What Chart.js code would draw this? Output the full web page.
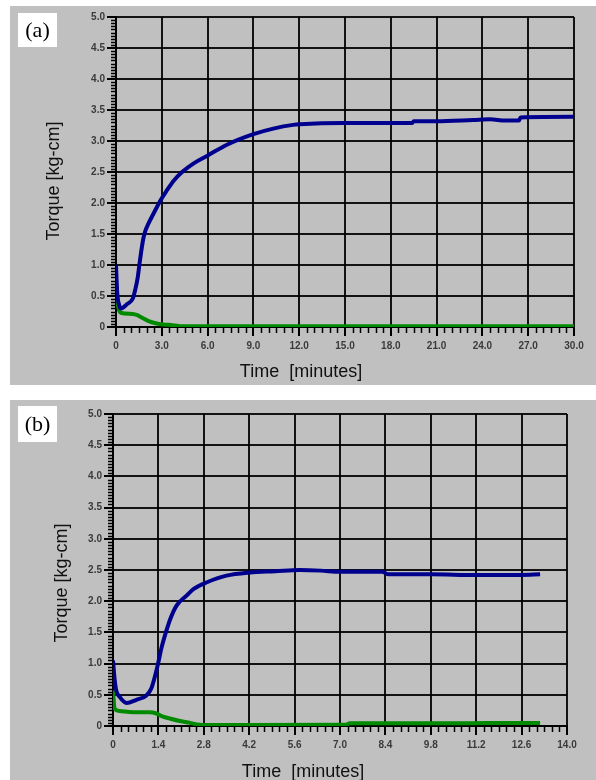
<!DOCTYPE html>
<html><head><meta charset="utf-8">
<script src="https://cdn.jsdelivr.net/npm/chart.js@4.4.1/dist/chart.umd.min.js"></script>
<style>
html,body{margin:0;padding:0;background:#fff;}
body{width:596px;height:780px;position:relative;overflow:hidden;}
.wrap{position:absolute;left:10px;width:586px;}
#wa{top:6px;height:379px;}
#wb{top:400px;height:380px;}
canvas{display:block;}
</style></head><body>
<div class="wrap" id="wa"><canvas id="ca" width="586" height="379"></canvas></div>
<div class="wrap" id="wb"><canvas id="cb" width="586" height="380"></canvas></div>
<script>
// ---------- data ----------
const yTicks = [0, 0.5, 1, 1.5, 2, 2.5, 3, 3.5, 4, 4.5, 5];
const yLabels = ["0", "0.5", "1.0", "1.5", "2.0", "2.5", "3.0", "3.5", "4.0", "4.5", "5.0"];

// panel (a)
const xTicksA = [0, 3, 6, 9, 12, 15, 18, 21, 24, 27, 30];
const xLabelsA = ["0", "3.0", "6.0", "9.0", "12.0", "15.0", "18.0", "21.0", "24.0", "27.0", "30.0"];
const tBlueA = [0, 0.08, 0.2, 0.34, 0.73, 1.1, 1.26, 1.41, 1.54, 1.69, 1.8, 1.95, 2.13, 2.46, 2.93, 3.35, 3.78, 4.33, 5.09, 5.96, 7.27, 9.0, 10.3, 11.6, 12.06, 14.9, 17.9, 19.4, 19.5, 21, 23.4, 24.5, 25.5, 26.4, 26.5, 30];
const vBlueA = [1.0, 0.55, 0.36, 0.30, 0.37, 0.46, 0.6, 0.78, 1.02, 1.28, 1.44, 1.57, 1.67, 1.83, 2.05, 2.21, 2.36, 2.50, 2.64, 2.76, 2.94, 3.11, 3.2, 3.26, 3.27, 3.29, 3.29, 3.29, 3.32, 3.32, 3.34, 3.35, 3.33, 3.33, 3.38, 3.39];
const tGreenA = [0, 0.1, 0.2, 0.3, 1.1, 1.4, 1.7, 2.1, 2.6, 3.1, 3.7, 4.2, 30];
const vGreenA = [0.68, 0.4, 0.27, 0.23, 0.21, 0.19, 0.15, 0.1, 0.06, 0.04, 0.03, 0.014, 0.012];

// panel (b)
const xTicksB = [0, 1.4, 2.8, 4.2, 5.6, 7.0, 8.4, 9.8, 11.2, 12.6, 14.0];
const xLabelsB = ["0", "1.4", "2.8", "4.2", "5.6", "7.0", "8.4", "9.8", "11.2", "12.6", "14.0"];
const tBlueB = [0, 0.05, 0.1, 0.2, 0.42, 0.72, 1.03, 1.18, 1.29, 1.39, 1.49, 1.63, 1.77, 1.96, 2.27, 2.5, 2.88, 3.5, 4.22, 5.0, 5.76, 6.4, 7.0, 8.3, 8.5, 9.8, 11.2, 12.6, 13.17];
const vBlueB = [1.05, 0.75, 0.57, 0.47, 0.37, 0.42, 0.49, 0.6, 0.79, 1.0, 1.24, 1.5, 1.72, 1.93, 2.09, 2.2, 2.3, 2.41, 2.46, 2.48, 2.5, 2.49, 2.47, 2.47, 2.43, 2.43, 2.42, 2.42, 2.43];
const tGreenB = [0, 0.05, 0.2, 0.62, 1.13, 1.34, 1.54, 1.75, 2.06, 2.37, 2.68, 3.1, 7.2, 7.3, 11.0, 12.0, 13.17];
const vGreenB = [0.57, 0.28, 0.24, 0.22, 0.22, 0.2, 0.15, 0.12, 0.08, 0.05, 0.02, 0.015, 0.02, 0.045, 0.045, 0.05, 0.05];

const yTitle = "Torque [kg-cm]";
const xTitle = "Time  [minutes]";

// ---------- helpers ----------
const toXY = (t, v) => t.map((x, i) => ({x: x, y: v[i]}));
const labelFor = (ticks, labels) => (val) => {
  const i = ticks.findIndex(t => Math.abs(t - val) < 1e-6);
  return i >= 0 ? labels[i] : "";
};

const panelPlugin = {
  id: 'panel',
  beforeDraw(chart) {
    const ctx = chart.ctx;
    ctx.save();
    ctx.fillStyle = '#c0c0c0';
    ctx.fillRect(0, 0, chart.width, chart.height);
    ctx.restore();
  },
  afterDraw(chart, args, o) {
    const ctx = chart.ctx;
    const xs = chart.scales.x, ys = chart.scales.y;
    const area = chart.chartArea;
    ctx.save();
    // minor ticks
    ctx.strokeStyle = '#000';
    ctx.lineWidth = 1.5;
    ctx.beginPath();
    for (let i = 0; i <= o.yMinorCount; i++) {
      if (i % o.yMinorPer === 0) continue;
      const py = Math.round(ys.getPixelForValue(ys.min + (ys.max - ys.min) * i / o.yMinorCount)) + 0.5;
      ctx.moveTo(area.left - 5, py); ctx.lineTo(area.left, py);
    }
    for (let i = 0; i <= o.xMinorCount; i++) {
      if (i % o.xMinorPer === 0) continue;
      const px = Math.round(xs.getPixelForValue(xs.min + (xs.max - xs.min) * i / o.xMinorCount)) + 0.5;
      ctx.moveTo(px, area.bottom); ctx.lineTo(px, area.bottom + 6);
    }
    ctx.stroke();
    // panel label
    ctx.fillStyle = '#fff';
    ctx.fillRect(o.box[0], o.box[1], o.box[2], o.box[3]);
    ctx.fillStyle = '#000';
    ctx.font = '22px "Liberation Serif"';
    ctx.textAlign = 'center';
    ctx.textBaseline = 'middle';
    ctx.fillText(o.label, o.box[0] + o.box[2] / 2, o.box[1] + o.box[3] / 2 + 1);
    // axis titles
    ctx.font = '18px "Liberation Sans"';
    ctx.fillStyle = '#111';
    ctx.fillText(o.xTitle, o.xTitlePos[0], o.xTitlePos[1]);
    ctx.translate(o.yTitlePos[0], o.yTitlePos[1]);
    ctx.rotate(-Math.PI / 2);
    ctx.fillText(o.yTitle, 0, 0);
    ctx.restore();
  }
};

function makeChart(id, c) {
  const tickFont = {size: 10, weight: 'bold', family: '"Liberation Sans", Arial'};
  return new Chart(document.getElementById(id), {
    type: 'line',
    data: {datasets: [
      {data: toXY(c.tBlue, c.vBlue), borderColor: '#00008e', borderWidth: 4, pointRadius: 0,
       cubicInterpolationMode: 'monotone', fill: false, order: 0},
      {data: toXY(c.tGreen, c.vGreen), borderColor: '#008a00', borderWidth: 4, pointRadius: 0,
       cubicInterpolationMode: 'monotone', fill: false, order: 1}
    ]},
    options: {
      responsive: false, animation: false, events: [],
      layout: {padding: {left: 0, top: c.padTop, right: c.padRight, bottom: 0}},
      plugins: {
        legend: {display: false}, tooltip: {enabled: false},
        panel: {label: c.label, box: c.box, xTitle: xTitle, yTitle: yTitle,
                xTitlePos: c.xTitlePos, yTitlePos: c.yTitlePos,
                yMinorCount: 100, yMinorPer: 10, xMinorCount: 60, xMinorPer: 6}
      },
      scales: {
        x: {
          type: 'linear', min: 0, max: c.xTicks[c.xTicks.length - 1],
          afterFit: s => { s.height = c.xH; },
          afterBuildTicks: s => { s.ticks = c.xTicks.map(v => ({value: v})); },
          ticks: {callback: labelFor(c.xTicks, c.xLabels), font: tickFont, color: '#3a3a3a',
                  padding: 4, maxRotation: 0, autoSkip: false},
          grid: {color: 'rgba(0,0,0,0.9)', lineWidth: 2, tickLength: 9, tickColor: '#000'},
          border: {color: '#000', width: 2}
        },
        y: {
          type: 'linear', min: 0, max: 5,
          afterFit: s => { s.width = c.yW; },
          afterBuildTicks: s => { s.ticks = yTicks.map(v => ({value: v})); },
          ticks: {callback: labelFor(yTicks, yLabels), font: tickFont, color: '#3a3a3a',
                  padding: 2, autoSkip: false},
          grid: {color: 'rgba(0,0,0,0.9)', lineWidth: 2, tickLength: 9, tickColor: '#000'},
          border: {color: '#000', width: 2}
        }
      }
    },
    plugins: [panelPlugin]
  });
}

makeChart('ca', {
  tBlue: tBlueA, vBlue: vBlueA, tGreen: tGreenA, vGreen: vGreenA,
  xTicks: xTicksA, xLabels: xLabelsA,
  padTop: 11, padRight: 22, xH: 58, yW: 106,
  label: '(a)', box: [8, 7, 39, 34], xTitlePos: [291, 366], yTitlePos: [44, 175]
});
makeChart('cb', {
  tBlue: tBlueB, vBlue: vBlueB, tGreen: tGreenB, vGreen: vGreenB,
  xTicks: xTicksB, xLabels: xLabelsB,
  padTop: 14, padRight: 29, xH: 54, yW: 103,
  label: '(b)', box: [8, 6, 39, 36], xTitlePos: [293, 372], yTitlePos: [52, 183]
});
</script>
</body></html>
